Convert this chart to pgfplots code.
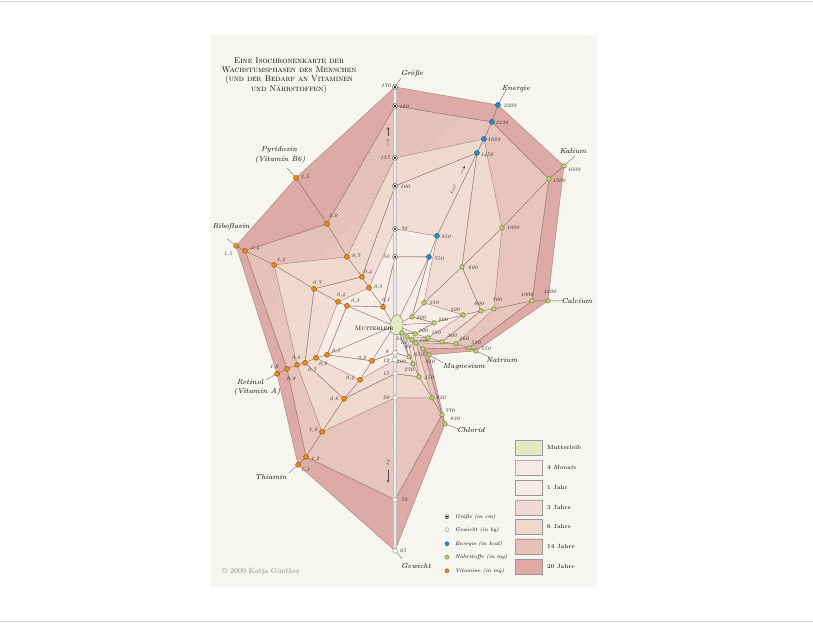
\documentclass[border=0pt]{standalone}
\usepackage{pgfplots}
\pgfplotsset{compat=1.18}
\usetikzlibrary{patterns}
\definecolor{cardbg}{HTML}{F7F5F0}
\definecolor{c20}{HTML}{DEAAA6}
\definecolor{c14}{HTML}{EDCFC6}
\definecolor{c14h}{HTML}{D9A79F}
\definecolor{c6}{HTML}{EFD8CC}
\definecolor{c3}{HTML}{F5E5DE}
\definecolor{c3h}{HTML}{E8C4BB}
\definecolor{c1}{HTML}{F7ECE6}
\definecolor{c4m}{HTML}{FAF3EF}
\definecolor{c4mh}{HTML}{EFD8D0}
\definecolor{cml}{HTML}{E3EBC6}
\definecolor{edge}{HTML}{9E8076}
\definecolor{spoke}{HTML}{6E5D57}
\definecolor{cblue}{HTML}{1F8FD6}
\definecolor{cgreen}{HTML}{B8D46A}
\definecolor{corange}{HTML}{F08C10}
\newcommand{\lab}{\fontsize{5.3}{6}\selectfont\itshape}
\newcommand{\nam}{\fontsize{7.2}{8}\selectfont\itshape}
\newcommand{\vl}[3]{\node[font=\lab,inner sep=0pt,text=black!90] at (axis cs:#1,#2) {#3};}
\newcommand{\nm}[3]{\node[font=\nam,inner sep=0pt,text=black] at (axis cs:#1,#2) {#3};}
\begin{document}
\begin{tikzpicture}
\begin{axis}[scale only axis, width=813pt, height=624pt,
  xmin=0, xmax=813, ymin=0, ymax=624, y dir=reverse,
  axis lines=none, ticks=none, clip=false]
\fill[white] (axis cs:0,0) rectangle (axis cs:813,624);
\draw[black!15] (axis cs:0,1) -- (axis cs:813,1);
\draw[black!15] (axis cs:0,621) -- (axis cs:813,621);
\fill[cardbg] (axis cs:210,35) rectangle (axis cs:597,587);
% ---- isochrone polygons: Groesse, Energie, Kalium, Calcium, Natrium, Magnesium, Chlorid, Gewicht, Thiamin, Retinol, Riboflavin, Pyridoxin
% 20 Jahre
\addplot[fill=c20, draw=edge, line width=0.4pt] coordinates {(395,87) (498,105) (564,166) (548,301) (476,351) (429,355) (445,424) (395,551) (298,465) (277,374) (236,246) (296,178)} -- cycle;
% 14 Jahre
\addplot[fill=c14, draw=edge, line width=0.4pt, postaction={pattern=north east lines, pattern color=c14h}] coordinates {(395,106) (492,122) (549,179) (532,301) (469,348) (423,349) (442,415) (395,500) (306,457) (287,369) (245,251) (327,224)} -- cycle;
% 6 Jahre
\addplot[fill=c6, draw=edge, line width=0.4pt] coordinates {(395,158) (484,139) (502,228) (494,309) (456,344) (416,343) (432,398) (395,398) (322,432) (297,365) (274,265) (347,257)} -- cycle;
% 3 Jahre
\addplot[fill=c3, draw=edge, line width=0.4pt, postaction={pattern=north east lines, pattern color=c3h}] coordinates {(395,186) (477,153) (462,267) (481,311) (442,342) (412,340) (419,377) (395,374) (344,399) (305,363) (314,289) (362,277)} -- cycle;
% 1 Jahr
\addplot[fill=c1, draw=edge, line width=0.4pt] coordinates {(395,229) (437,236) (424,303) (463,315) (428,338) (407,337) (413,364) (395,360) (360,380) (316,358) (338,302) (369,288)} -- cycle;
% 4 Monate
\addplot[fill=c4m, draw=edge, line width=0.4pt, postaction={pattern=north east lines, pattern color=c4mh}] coordinates {(395,257) (429,257) (412,317) (434,323) (415,334) (402,333) (409,357) (395,353) (372,361) (327,355) (347,306) (383,307)} -- cycle;
% ---- Groesse / Gewicht axis band
\addplot[line width=4.5pt, color=black!25] coordinates {(395,84) (395,552)};
\addplot[line width=2.2pt, color=white!92!black] coordinates {(395,84) (395,552)};
% ---- spokes
\addplot[spoke, line width=0.35pt] coordinates {(396,325) (429,257) (437,236) (477,153) (484,139) (492,122) (498,105) (506,90)};
\addplot[spoke, line width=0.35pt] coordinates {(396,325) (412,317) (424,303) (462,267) (502,228) (549,179) (564,166) (575,156)};
\addplot[spoke, line width=0.35pt] coordinates {(396,325) (434,323) (463,315) (481,311) (494,309) (532,301) (548,301) (563,301)};
\addplot[spoke, line width=0.35pt] coordinates {(396,325) (415,334) (428,338) (442,342) (456,344) (469,348) (476,351) (489,357)};
\addplot[spoke, line width=0.35pt] coordinates {(396,325) (402,333) (407,337) (412,340) (416,343) (423,349) (429,355) (443,363)};
\addplot[spoke, line width=0.35pt] coordinates {(396,325) (409,357) (413,364) (419,377) (432,398) (442,415) (445,424) (458,429)};
\addplot[spoke, line width=0.35pt] coordinates {(395,551) (402,559)};
\addplot[spoke, line width=0.35pt] coordinates {(395,87) (401,78)};
\addplot[spoke, line width=0.35pt] coordinates {(394,326) (372,361) (360,380) (344,399) (322,432) (306,457) (298,465) (289,473)};
\addplot[spoke, line width=0.35pt] coordinates {(394,326) (327,355) (316,358) (305,363) (297,365) (287,369) (277,374) (266,380)};
\addplot[spoke, line width=0.35pt] coordinates {(394,326) (347,306) (338,302) (314,289) (274,265) (245,251) (236,246) (227,239)};
\addplot[spoke, line width=0.35pt] coordinates {(394,326) (383,307) (369,288) (362,277) (347,257) (327,224) (296,178) (287,168)};
% ---- Mutterleib blob and label
\addplot[fill=cml, draw=black!45!cml, line width=0.4pt, smooth] coordinates {(393,317) (398,315) (402,319) (403,326) (401,333) (396,335) (391,332) (390,324)} -- cycle;
\node[font=\fontsize{6.5}{7}\selectfont\scshape, text=black] at (axis cs:374,328) {Mutterleib};
% ---- markers
\addplot[only marks, mark=*, mark size=2.4pt, mark options={fill=white, draw=black!80, line width=0.4pt}] coordinates {(395,257) (395,229) (395,186) (395,158) (395,106) (395,87)};
\addplot[only marks, mark=*, mark size=0.8pt, mark options={fill=black, draw=black}] coordinates {(395,257) (395,229) (395,186) (395,158) (395,106) (395,87)};
\addplot[only marks, mark=*, mark size=2.4pt, mark options={fill=white, draw=black!45, line width=0.4pt}] coordinates {(395,353) (395,360) (395,374) (395,398) (395,500) (395,551)};
\addplot[only marks, mark=*, mark size=2.5pt, mark options={fill=cblue, draw=cblue!55!black, line width=0.4pt}] coordinates {(429,257) (437,236) (477,153) (484,139) (492,122) (498,105)};
\addplot[only marks, mark=*, mark size=2.3pt, mark options={fill=cgreen, draw=cgreen!55!black, line width=0.4pt}] coordinates {
(412,317) (424,303) (462,267) (502,228) (549,179) (564,166)
(434,323) (463,315) (481,311) (494,309) (532,301) (548,301)
(415,334) (428,338) (442,342) (456,344) (469,348) (476,351)
(402,333) (407,337) (412,340) (416,343) (423,349) (429,355)
(409,357) (413,364) (419,377) (432,398) (442,415) (445,424)};
\addplot[only marks, mark=*, mark size=2.5pt, mark options={fill=corange, draw=corange!55!black, line width=0.4pt}] coordinates {
(372,361) (360,380) (344,399) (322,432) (306,457) (298,465)
(327,355) (316,358) (305,363) (297,365) (287,369) (277,374)
(347,306) (338,302) (314,289) (274,265) (245,251) (236,246)
(383,307) (369,288) (362,277) (347,257) (327,224) (296,178)};
% ---- value labels
\vl{386}{86}{170}\vl{404}{107}{160}\vl{385}{158}{115}\vl{405}{187}{100}\vl{404}{229}{70}\vl{386}{257}{50}
\vl{387}{352}{8}\vl{386}{361}{12}\vl{386}{374}{15}\vl{386}{398}{20}\vl{404}{500}{50}\vl{403}{551}{65}
\vl{439}{259}{750}\vl{446}{237}{950}\vl{487}{155}{1450}\vl{494}{140}{1629}\vl{502}{123}{2136}\vl{510}{106}{2200}
\vl{421}{318}{200}\vl{434}{303}{350}\vl{473}{268}{600}\vl{513}{228}{1000}\vl{559}{181}{1500}\vl{574}{170}{1600}
\vl{443}{320}{200}\vl{455}{310}{400}\vl{479}{304}{600}\vl{497}{300}{700}\vl{527}{295}{1000}\vl{550}{292}{1200}
\vl{423}{331}{100}\vl{436}{333}{180}\vl{452}{336}{300}\vl{464}{339}{460}\vl{476}{343}{510}\vl{486}{349}{550}
\vl{399}{339}{24}\vl{404}{343}{60}\vl{408}{347}{80}\vl{424}{341}{120}\vl{419}{355}{250}\vl{430}{362}{310}
\vl{401}{362}{200}\vl{409}{370}{270}\vl{429}{378}{450}\vl{441}{398}{620}\vl{450}{411}{770}\vl{455}{419}{830}
\vl{362}{358}{0,2}\vl{350}{378}{0,4}\vl{334}{399}{0,6}\vl{313}{430}{1,0}\vl{315}{459}{1,2}\vl{305}{470}{1,3}
\vl{336}{351}{0,5}\vl{323}{364}{0,6}\vl{312}{370}{0,7}\vl{296}{358}{0,8}\vl{291}{379}{0,9}\vl{274}{367}{1,0}
\vl{355}{301}{0,3}\vl{341}{295}{0,4}\vl{317}{283}{0,7}\vl{281}{260}{1,1}\vl{255}{248}{1,4}\vl{228}{254}{1,5}
\vl{386}{300}{0,1}\vl{378}{287}{0,3}\vl{368}{272}{0,4}\vl{356}{256}{0,7}\vl{333}{216}{1,0}\vl{305}{177}{1,5}
% ---- unit hints
\node[font=\fontsize{4.5}{5}\selectfont\itshape, rotate=90, text=black!80, inner sep=0pt] at (axis cs:388,143) {cm};
\draw[black!70, line width=0.3pt, ->, >=stealth] (axis cs:388,136) -- (axis cs:388,127);
\node[font=\fontsize{4.5}{5}\selectfont\itshape, rotate=64, text=black!80, inner sep=0pt] at (axis cs:453,190) {kcal};
\draw[black!70, line width=0.3pt, ->, >=stealth] (axis cs:461,174) -- (axis cs:465,166);
\node[font=\fontsize{4.5}{5}\selectfont\itshape, rotate=90, text=black!80, inner sep=0pt] at (axis cs:388,463) {kg};
\draw[black!70, line width=0.3pt, ->, >=stealth] (axis cs:388,470) -- (axis cs:388,483);
% ---- spoke names
\nm{412}{74}{Größe}\nm{516}{89}{Energie}\nm{573}{151}{Kalium}\nm{577}{301}{Calcium}
\nm{502}{360}{Natrium}\nm{464}{367}{Magnesium}\nm{471}{430}{Chlorid}\nm{416}{566}{Gewicht}
\nm{271}{477}{Thiamin}\nm{250}{382}{Retinol}\nm{257}{392}{(Vitamin A)}\nm{231}{227}{Riboflavin}
\nm{279}{150}{Pyridoxin}\nm{280}{160}{(Vitamin B6)}
% ---- title
\node[align=center, font=\fontsize{8.2}{9.3}\selectfont\scshape, text=black] at (axis cs:289,75.5) {Eine Isochronenkarte der\\Wachstumsphasen des Menschen\\(und der Bedarf an Vitaminen\\und Nährstoffen)};
% ---- legend boxes
\filldraw[fill=cml, draw=black!40, line width=0.4pt] (axis cs:515,440) rectangle (axis cs:542,455);
\filldraw[fill=c4m, draw=black!40, line width=0.4pt, postaction={pattern=north east lines, pattern color=c4mh}] (axis cs:515,460) rectangle (axis cs:542,475);
\filldraw[fill=c1, draw=black!40, line width=0.4pt] (axis cs:515,480) rectangle (axis cs:542,495);
\filldraw[fill=c3, draw=black!40, line width=0.4pt, postaction={pattern=north east lines, pattern color=c3h}] (axis cs:515,500) rectangle (axis cs:542,515);
\filldraw[fill=c6, draw=black!40, line width=0.4pt] (axis cs:515,519) rectangle (axis cs:542,534);
\filldraw[fill=c14, draw=black!40, line width=0.4pt, postaction={pattern=north east lines, pattern color=c14h}] (axis cs:515,539) rectangle (axis cs:542,554);
\filldraw[fill=c20, draw=black!40, line width=0.4pt] (axis cs:515,559) rectangle (axis cs:542,574);
\node[font=\fontsize{6}{7}\selectfont, anchor=west, inner sep=0pt] at (axis cs:547,447.5) {Mutterleib};
\node[font=\fontsize{6}{7}\selectfont, anchor=west, inner sep=0pt] at (axis cs:547,467.5) {4 \textit{Monate}};
\node[font=\fontsize{6}{7}\selectfont, anchor=west, inner sep=0pt] at (axis cs:547,487.5) {1 Jahr};
\node[font=\fontsize{6}{7}\selectfont, anchor=west, inner sep=0pt] at (axis cs:547,507.5) {3 Jahre};
\node[font=\fontsize{6}{7}\selectfont, anchor=west, inner sep=0pt] at (axis cs:547,526.5) {6 Jahre};
\node[font=\fontsize{6}{7}\selectfont, anchor=west, inner sep=0pt] at (axis cs:547,546.5) {14 Jahre};
\node[font=\fontsize{6}{7}\selectfont, anchor=west, inner sep=0pt] at (axis cs:547,566.5) {20 Jahre};
% ---- marker legend
\addplot[only marks, mark=*, mark size=2pt, mark options={fill=white, draw=black!80, line width=0.4pt}] coordinates {(447,517)};
\addplot[only marks, mark=*, mark size=0.7pt, mark options={fill=black}] coordinates {(447,517)};
\addplot[only marks, mark=*, mark size=2pt, mark options={fill=white, draw=black!45, line width=0.4pt}] coordinates {(447,530)};
\addplot[only marks, mark=*, mark size=2pt, mark options={fill=cblue, draw=cblue!55!black, line width=0.4pt}] coordinates {(447,544)};
\addplot[only marks, mark=*, mark size=2pt, mark options={fill=cgreen, draw=cgreen!55!black, line width=0.4pt}] coordinates {(447,557.5)};
\addplot[only marks, mark=*, mark size=2pt, mark options={fill=corange, draw=corange!55!black, line width=0.4pt}] coordinates {(447,571)};
\node[font=\fontsize{5.4}{6}\selectfont\itshape, anchor=west, inner sep=0pt] at (axis cs:455,517) {Größe (in cm)};
\node[font=\fontsize{5.4}{6}\selectfont\itshape, anchor=west, inner sep=0pt] at (axis cs:455,530) {Gewicht (in kg)};
\node[font=\fontsize{5.4}{6}\selectfont\itshape, anchor=west, inner sep=0pt] at (axis cs:455,544) {Energie (in kcal)};
\node[font=\fontsize{5.4}{6}\selectfont\itshape, anchor=west, inner sep=0pt] at (axis cs:455,557.5) {Nährstoffe (in mg)};
\node[font=\fontsize{5.4}{6}\selectfont\itshape, anchor=west, inner sep=0pt] at (axis cs:455,571) {Vitamine (in mg)};
% ---- copyright
\node[font=\fontsize{7.5}{8}\selectfont, anchor=west, inner sep=0pt, text=black!45] at (axis cs:222,572) {\textcopyright{} 2009 Katja Günther};
\end{axis}
\end{tikzpicture}
\end{document}
